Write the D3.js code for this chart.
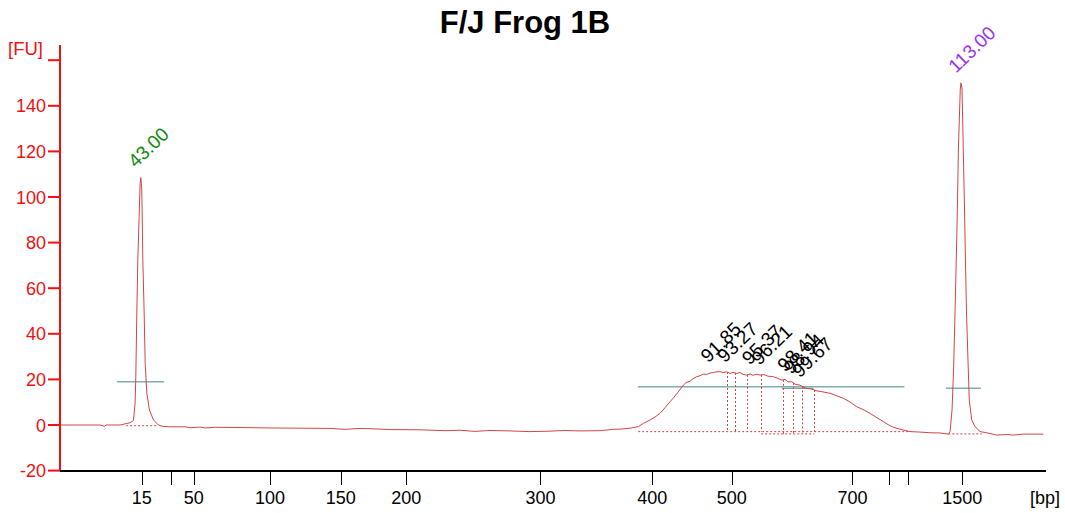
<!DOCTYPE html>
<html>
<head>
<meta charset="utf-8">
<script src="https://cdn.jsdelivr.net/npm/d3@7"></script>
<style>
  html, body { margin: 0; padding: 0; background: #fff; }
  svg { display: block; font-family: "Liberation Sans", Arial, sans-serif; }
</style>
</head>
<body>
<svg id="chart" width="1065" height="513"></svg>
<script>
// Electropherogram: fluorescence [FU] against migration time, with the ladder sizes [bp] as x ticks.
const chartTitle = "F/J Frog 1B";

// Ladder calibration: fragment sizes and their migration times (s)
const ladderSizes  = [15, 25, 50, 100, 150, 200, 300, 400, 500, 700, 850, 1000, 1500];
const ladderTimes  = [43.08, 45.54, 47.51, 54.03, 60.07, 65.66, 77.11, 86.65, 93.44, 103.74, 106.82, 108.46, 113.12];
const ladderLabels = ["15", "", "50", "100", "150", "200", "300", "400", "500", "700", "", "", "1500"];

// Fluorescence ticks
const fuTicks  = [-20, 0, 20, 40, 60, 80, 100, 120, 140, 160];
const fuLabels = ["-20", "0", "20", "40", "60", "80", "100", "120", "140", ""];

// Trace: migration time (s) and fluorescence (FU)
const traceTime = [
  36.11, 38.00, 39.53, 39.90, 40.05, 41.23, 41.81, 42.09, 42.37, 42.51, 42.57, 42.66, 42.74, 42.85, 42.94,
  43.00, 43.07, 43.11, 43.17, 43.28, 43.37, 43.51, 43.73, 44.08, 44.50,
  44.90, 45.50, 46.78, 47.21, 48.06, 48.49, 49.34, 51.47, 54.03, 56.59, 59.15, 60.43, 61.71, 62.99, 64.27,
  66.83, 68.96, 70.24, 71.52, 72.80, 74.51, 76.21, 77.92, 79.20, 80.48, 82.19, 83.33, 83.90, 84.75,
  85.47, 85.89, 86.46, 86.89, 87.31, 87.74, 88.17, 88.51, 88.88,
  89.31, 89.54, 89.88, 90.13, 90.45, 90.73, 90.99, 91.30, 91.58, 91.87, 92.10, 92.44, 92.69, 93.01, 93.29,
  93.55, 93.86, 94.14, 94.40, 94.72, 95.00, 95.26, 95.52, 95.85, 96.19, 96.54, 96.99, 97.30, 97.70, 97.99,
  98.24, 98.56, 98.84, 99.26, 99.52, 99.84, 100.20, 100.69, 101.14, 101.83, 102.34, 102.96, 103.53, 104.10,
  104.64, 105.24, 105.76, 106.37, 106.77, 107.23, 107.63, 108.08, 108.65, 109.50, 110.36, 111.21, 111.92,
  112.07, 112.24, 112.37, 112.50, 112.62, 112.71, 112.78, 112.86, 112.94, 113.00, 113.09, 113.15, 113.20,
  113.29, 113.37, 113.47, 113.60, 113.71, 113.92, 114.20, 114.63, 115.20, 116.05, 116.90, 117.47, 118.32, 120.03
];
const traceFU = [
  0.0, 0.0, 0.0, -0.6, 0.0, 0.0, 0.7, 1.0, 2.0, 9.5, 21.0, 50.0, 72.0, 91.0, 106.0,
  108.5, 104.0, 94.0, 72.0, 50.0, 27.0, 14.0, 6.6, 2.2, 0.0,
  -0.6, -0.8, -0.8, -1.2, -0.9, -1.3, -1.0, -1.1, -1.3, -1.4, -1.5, -1.9, -1.5, -1.7, -2.0,
  -2.1, -2.5, -2.3, -2.8, -2.4, -2.6, -2.9, -2.7, -2.4, -2.6, -2.5, -1.9, -1.8, -1.4,
  -0.7, 0.7, 2.2, 3.5, 5.1, 7.6, 10.2, 12.2, 14.6,
  17.5, 18.6, 19.2, 20.3, 21.2, 21.6, 22.3, 22.2, 22.8, 23.0, 23.3, 23.4, 23.0, 23.3, 22.6,
  23.1, 22.6, 23.0, 22.2, 21.9, 22.4, 21.8, 22.3, 21.9, 22.1, 21.4, 21.2, 20.6, 19.7, 20.0,
  18.9, 19.0, 17.9, 17.5, 16.6, 16.1, 15.8, 15.0, 14.6, 13.9, 12.9, 11.7, 10.1, 8.0,
  6.8, 5.1, 3.4, 1.5, 0.2, -1.0, -1.6, -2.2, -2.9, -3.1, -3.4, -3.5, -4.0,
  -2.9, 6.6, 24.1, 50.4, 76.8, 98.7, 120.6, 133.8, 146.9, 150.1, 147.8, 133.8, 120.6,
  98.7, 76.8, 50.4, 28.5, 11.0, 2.2, -0.7, -2.9, -3.4, -4.4, -4.2, -4.4, -4.0, -4.0
];

// Detected peaks: migration time (s), apex height (FU), and type
const peakTimes = [43.00, 91.85, 93.27, 95.37, 96.21, 98.41, 98.94, 99.67, 113.00];
const peakFU    = [108.5, 23.0, 23.0, 22.0, 21.9, 19.0, 18.0, 16.5, 150.1];
const peakKind  = ["lower", "sample", "sample", "sample", "sample", "sample", "sample", "sample", "upper"];

// Peak borders inside the smear region (s) and the baseline level they drop to (FU)
const borderTimes = [93.03, 93.74, 94.76, 95.95, 97.79, 98.69, 99.43, 100.48];
const borderBase  = [-2.9, -2.9, -2.9, -2.9, -3.9, -3.9, -3.9, -3.9];

// Dotted baselines under the peaks: start (s), end (s), level (FU)
const baseStart = [41.75, 85.45, 95.95, 111.92];
const baseEnd   = [44.36, 108.65, 100.48, 114.77];
const baseFU    = [-0.3, -2.9, -3.9, -3.9];

// Region level lines: start (s), end (s), level (FU)
const levelStart = [40.95, 85.41, 111.72];
const levelEnd   = [44.99, 108.17, 114.71];
const levelFU    = [19.0, 16.8, 16.1];
// Inner region level line
const subStart = [97.70];
const subEnd   = [100.40];
const subFU    = [16.1];

// ---------------------------------------------------------------
const svg = d3.select("#chart");
const left = 60, right = 1046;

const x = d3.scaleLinear().domain([36.1, 120.26]).range([left, right]);
const y = d3.scaleLinear().domain([-20, 160]).range([470.6, 60.2]);

const traceColor = "#d04545";
const levelColor = "#7fb0ae";
const axisRed = "#ee1111";
const kindColor = { lower: "#118811", sample: "#000000", upper: "#9933ee" };

// Title
svg.append("text")
  .attr("x", 525).attr("y", 33)
  .attr("text-anchor", "middle")
  .attr("font-size", 31).attr("font-weight", "bold")
  .attr("fill", "#000")
  .text(chartTitle);

// Region level lines
svg.append("g").selectAll("line").data(levelStart).join("line")
  .attr("x1", d => x(d)).attr("x2", (d, i) => x(levelEnd[i]))
  .attr("y1", (d, i) => y(levelFU[i])).attr("y2", (d, i) => y(levelFU[i]))
  .attr("stroke", levelColor).attr("stroke-width", 1.5);
svg.append("g").selectAll("line").data(subStart).join("line")
  .attr("x1", d => x(d)).attr("x2", (d, i) => x(subEnd[i]))
  .attr("y1", (d, i) => y(subFU[i])).attr("y2", (d, i) => y(subFU[i]))
  .attr("stroke", "#6a8584").attr("stroke-width", 1);

// Dotted baselines
svg.append("g").selectAll("line").data(baseStart).join("line")
  .attr("x1", d => x(d)).attr("x2", (d, i) => x(baseEnd[i]))
  .attr("y1", (d, i) => y(baseFU[i])).attr("y2", (d, i) => y(baseFU[i]))
  .attr("stroke", traceColor).attr("stroke-width", 1)
  .attr("stroke-dasharray", "2,2");

// Peak borders: dotted drop lines from the trace to the baseline
const traceAt = t => {
  const i = d3.bisectLeft(traceTime, t);
  if (i <= 0) return traceFU[0];
  if (i >= traceTime.length) return traceFU[traceFU.length - 1];
  const t0 = traceTime[i - 1], t1 = traceTime[i];
  return d3.interpolateNumber(traceFU[i - 1], traceFU[i])((t - t0) / (t1 - t0));
};
svg.append("g").selectAll("line").data(borderTimes).join("line")
  .attr("x1", d => Math.round(x(d)) + 0.5).attr("x2", d => Math.round(x(d)) + 0.5)
  .attr("y1", d => y(traceAt(d))).attr("y2", (d, i) => y(borderBase[i]))
  .attr("stroke", traceColor).attr("stroke-width", 1)
  .attr("stroke-dasharray", "2,2");

// Trace
const line = d3.line().x(d => x(d[0])).y(d => y(d[1]));
svg.append("path")
  .datum(traceTime.map((t, i) => [t, traceFU[i]]))
  .attr("d", line)
  .attr("fill", "none")
  .attr("stroke", traceColor)
  .attr("stroke-width", 1)
  .attr("stroke-linejoin", "round");

// Peak labels (migration time)
const fmt = d3.format(".2f");
svg.append("g").selectAll("text").data(peakTimes).join("text")
  .attr("transform", (d, i) => `translate(${x(d) - 5},${y(peakFU[i]) - 9}) rotate(-44)`)
  .attr("font-size", 19)
  .attr("fill", (d, i) => kindColor[peakKind[i]])
  .text(d => fmt(d));

// Y axis
const yAxisG = svg.append("g").attr("transform", `translate(${left},0)`);
yAxisG.append("line")
  .attr("x1", 0).attr("x2", 0).attr("y1", 45).attr("y2", 471)
  .attr("stroke", axisRed).attr("stroke-width", 2);
yAxisG.selectAll("line.tick").data(fuTicks).join("line")
  .attr("class", "tick")
  .attr("x1", -12).attr("x2", 0)
  .attr("y1", d => y(d)).attr("y2", d => y(d))
  .attr("stroke", axisRed).attr("stroke-width", 2);
yAxisG.selectAll("text").data(fuTicks).join("text")
  .attr("x", -14).attr("y", d => y(d) + 6.5)
  .attr("text-anchor", "end")
  .attr("font-size", 18)
  .attr("fill", axisRed)
  .text((d, i) => fuLabels[i]);
svg.append("text")
  .attr("x", 8).attr("y", 55)
  .attr("font-size", 18.5).attr("fill", axisRed)
  .text("[FU]");

// X axis
const xAxisG = svg.append("g");
xAxisG.append("line")
  .attr("x1", left).attr("x2", right).attr("y1", 471).attr("y2", 471)
  .attr("stroke", "#000").attr("stroke-width", 2);
xAxisG.selectAll("line.tick").data(ladderTimes).join("line")
  .attr("class", "tick")
  .attr("x1", d => Math.round(x(d)) + 0.5).attr("x2", d => Math.round(x(d)) + 0.5)
  .attr("y1", 472).attr("y2", 485)
  .attr("stroke", "#000").attr("stroke-width", 1);
xAxisG.selectAll("text").data(ladderTimes).join("text")
  .attr("x", d => x(d)).attr("y", 504)
  .attr("text-anchor", "middle")
  .attr("font-size", 18).attr("fill", "#000")
  .text((d, i) => ladderLabels[i]);
svg.append("text")
  .attr("x", 1030).attr("y", 504)
  .attr("font-size", 18).attr("fill", "#000")
  .text("[bp]");
</script>
</body>
</html>
